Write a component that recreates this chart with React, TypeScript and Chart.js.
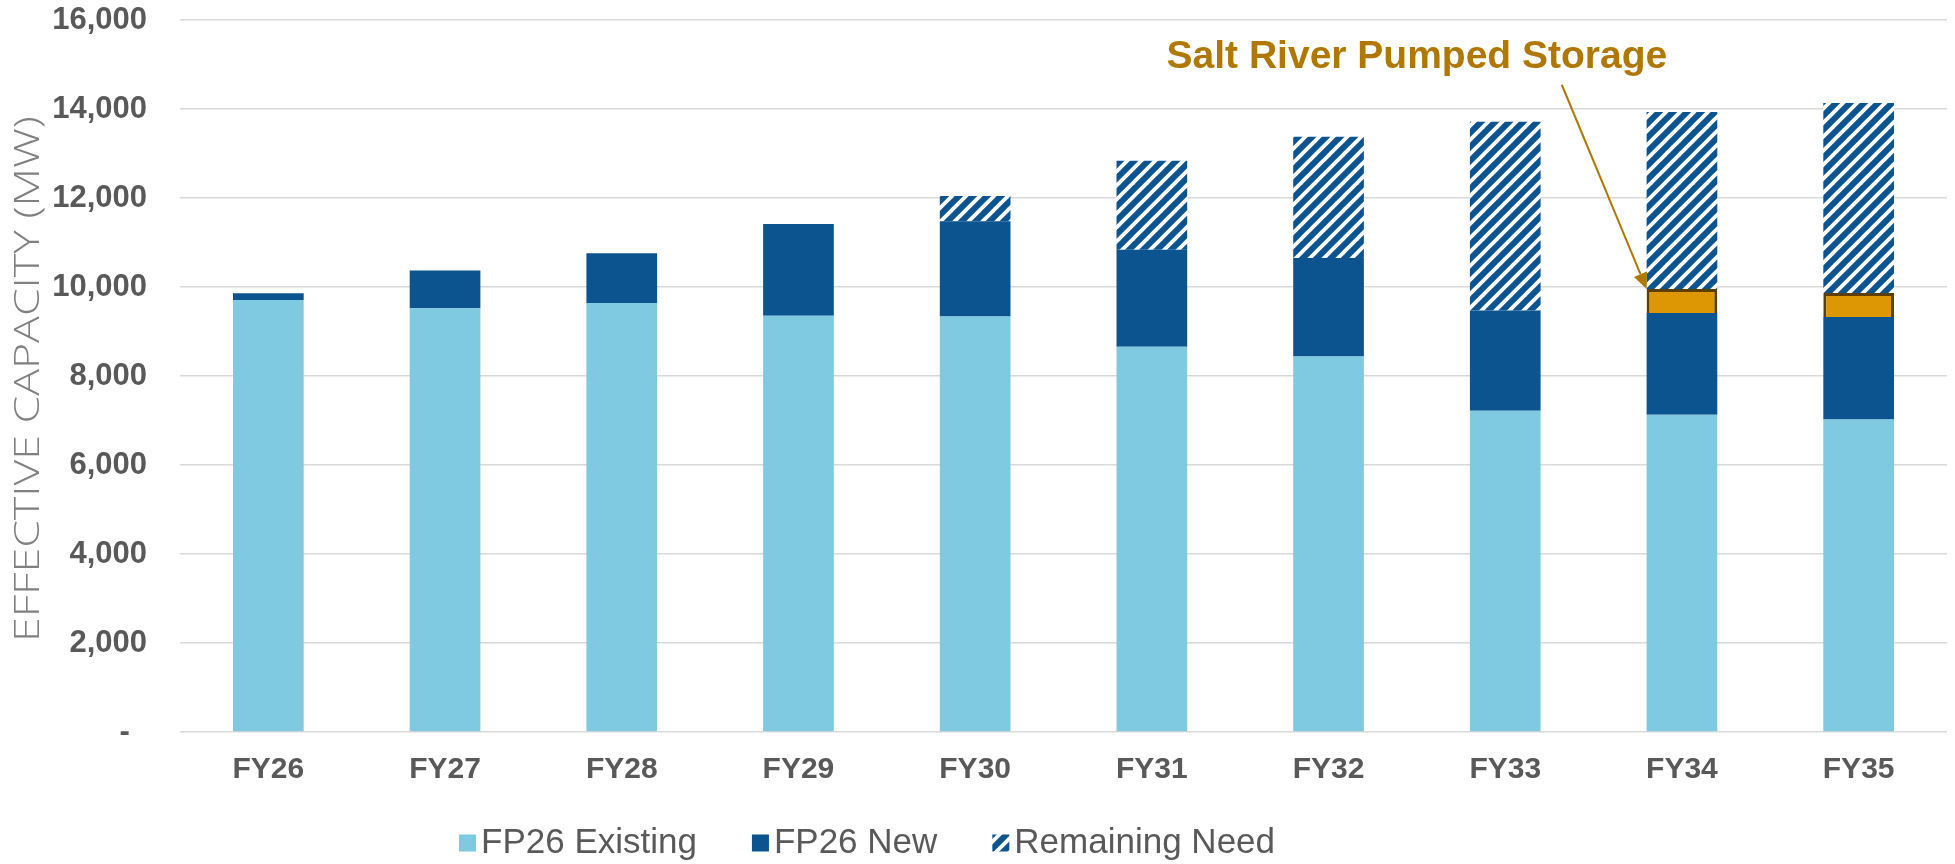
import React, { useEffect, useRef } from 'react';
import { Chart, registerables } from 'chart.js';

Chart.register(...registerables);

// ---------- data ----------
const categories = ['FY26', 'FY27', 'FY28', 'FY29', 'FY30', 'FY31', 'FY32', 'FY33', 'FY34', 'FY35'];
const fp26Existing = [9710, 9520, 9640, 9355, 9335, 8660, 8440, 7220, 7130, 7020];
const fp26New = [150, 850, 1120, 2060, 2140, 2175, 2210, 2250, 2285, 2305];
const saltRiverPumpedStorage = [null, null, null, null, null, null, null, null, 540, 540];
const remainingNeed = [null, null, null, null, 570, 2000, 2725, 4245, 3980, 4270];
const yTickValues = [0, 2000, 4000, 6000, 8000, 10000, 12000, 14000, 16000];
const legendLabels = ['FP26 Existing', 'FP26 New', 'Remaining Need'];
const annotationLabel = 'Salt River Pumped Storage';
const yAxisTitle = 'EFFECTIVE CAPACITY (MW)';

// ---------- styles ----------
const LIGHT_BLUE = '#7FC9E1';
const DARK_BLUE = '#0B5490';
const ORANGE = '#DD9705';
const ORANGE_BORDER = '#5E3F03';
const GOLD_TEXT = '#B07800';
const GREY_TEXT = '#595959';
const FONT = '"Liberation Sans", Arial, sans-serif';

function makeHatch(): CanvasPattern | string {
  const s = 14;
  const c = document.createElement('canvas');
  c.width = s;
  c.height = s;
  const g = c.getContext('2d');
  if (!g) return DARK_BLUE;
  g.fillStyle = DARK_BLUE;
  g.fillRect(0, 0, s, s);
  g.strokeStyle = '#FFFFFF';
  g.lineWidth = 3.8;
  for (const off of [-s, 0, s]) {
    g.beginPath();
    g.moveTo(off - 2, s + 2);
    g.lineTo(off + s + 2, -2);
    g.stroke();
  }
  const p = g.createPattern(c, 'repeat');
  return p || DARK_BLUE;
}

export default function App() {
  const ref = useRef<HTMLCanvasElement>(null);

  useEffect(() => {
    document.body.style.margin = '0';
    const canvas = ref.current;
    if (!canvas) return;
    const hatch = makeHatch();

    const overlay = {
      id: 'overlay',
      afterDraw(chart: any) {
        const ctx: CanvasRenderingContext2D = chart.ctx;
        const xs = chart.scales.x;
        const ys = chart.scales.y;
        const area = chart.chartArea;

        // y-axis title (condensed light text)
        ctx.save();
        ctx.translate(29, (area.top + area.bottom) / 2 + 3);
        ctx.rotate(-Math.PI / 2);
        ctx.font = '300 34px "Open Sans", ' + FONT;
        const tw = ctx.measureText(yAxisTitle).width;
        ctx.scale(526 / tw, 1);
        ctx.fillStyle = '#808080';
        ctx.textAlign = 'center';
        ctx.textBaseline = 'middle';
        ctx.fillText(yAxisTitle, 0, 0);
        ctx.restore();

        // legend
        ctx.save();
        ctx.font = '35px ' + FONT;
        const fills = [LIGHT_BLUE, DARK_BLUE, hatch];
        let lx = 459;
        const ly = 843;
        legendLabels.forEach((lab, i) => {
          ctx.fillStyle = fills[i] as any;
          ctx.fillRect(lx, ly - 8.5, 17, 17);
          lx += 17 + 5;
          ctx.fillStyle = GREY_TEXT;
          ctx.textAlign = 'left';
          ctx.textBaseline = 'middle';
          ctx.fillText(lab, lx, ly);
          lx += ctx.measureText(lab).width + 55;
        });
        ctx.restore();

        // annotation
        const meta = chart.getDatasetMeta(2);
        const el = meta.data[8];
        ctx.save();
        ctx.font = 'bold 39px ' + FONT;
        ctx.fillStyle = GOLD_TEXT;
        ctx.textAlign = 'center';
        ctx.textBaseline = 'alphabetic';
        ctx.fillText(annotationLabel, xs.getPixelForValue(6.5), ys.getPixelForValue(14930));
        if (el) {
          const props = el.getProps(['x', 'y', 'width'], true);
          const tx = props.x - props.width / 2;
          const ty = props.y;
          const sx = xs.getPixelForValue(7.32);
          const sy = ys.getPixelForValue(14545);
          const ang = Math.atan2(ty - sy, tx - sx);
          const head = 16;
          const hw = 7;
          const bx = tx - head * Math.cos(ang);
          const by = ty - head * Math.sin(ang);
          ctx.strokeStyle = GOLD_TEXT;
          ctx.lineWidth = 2;
          ctx.beginPath();
          ctx.moveTo(sx, sy);
          ctx.lineTo(bx, by);
          ctx.stroke();
          ctx.beginPath();
          ctx.moveTo(tx, ty);
          ctx.lineTo(bx + hw * Math.sin(ang), by - hw * Math.cos(ang));
          ctx.lineTo(bx - hw * Math.sin(ang), by + hw * Math.cos(ang));
          ctx.closePath();
          ctx.fillStyle = GOLD_TEXT;
          ctx.fill();
        }
        ctx.restore();
      },
    };

    const chart = new Chart(canvas, {
      type: 'bar',
      data: {
        labels: categories,
        datasets: [
          { label: legendLabels[0], data: fp26Existing, backgroundColor: LIGHT_BLUE, borderWidth: 0 },
          { label: legendLabels[1], data: fp26New, backgroundColor: DARK_BLUE, borderWidth: 0 },
          {
            label: annotationLabel,
            data: saltRiverPumpedStorage as any,
            backgroundColor: ORANGE,
            borderColor: ORANGE_BORDER,
            borderWidth: 3,
          },
          { label: legendLabels[2], data: remainingNeed as any, backgroundColor: hatch as any, borderWidth: 0 },
        ],
      },
      options: {
        responsive: false,
        animation: false,
        layout: { padding: { left: 0, right: 8, top: 20, bottom: 72 } },
        datasets: { bar: { categoryPercentage: 1, barPercentage: 0.4 } },
        plugins: {
          legend: { display: false },
          tooltip: { enabled: false },
          title: { display: false },
        },
        scales: {
          x: {
            stacked: true,
            grid: { display: false, drawTicks: false },
            border: { display: false },
            ticks: {
              color: GREY_TEXT,
              font: { family: FONT, size: 30, weight: 'bold' },
              padding: 20,
            },
            afterFit(scale: any) {
              scale.height = 60;
            },
          },
          y: {
            stacked: true,
            min: 0,
            max: 16000,
            grid: { color: '#D9D9D9', lineWidth: 1.5, drawTicks: false },
            border: { display: false },
            afterBuildTicks(scale: any) {
              scale.ticks = yTickValues.map((v) => ({ value: v }));
            },
            ticks: {
              color: GREY_TEXT,
              font: { family: FONT, size: 31, weight: 'bold' },
              padding: 33,
              callback: (v: any) => (Number(v) === 0 ? '-  ' : Number(v).toLocaleString('en-US')),
            },
            afterFit(scale: any) {
              scale.width = 180;
              scale.paddingTop = 18;
              scale.paddingBottom = 18;
            },
          },
        },
      },
      plugins: [overlay],
    } as any);

    return () => chart.destroy();
  }, []);

  return (
    <div style={{ width: 1955, height: 864, background: '#FFFFFF' }}>
      <canvas ref={ref} width={1955} height={864} style={{ display: 'block' }} />
    </div>
  );
}
